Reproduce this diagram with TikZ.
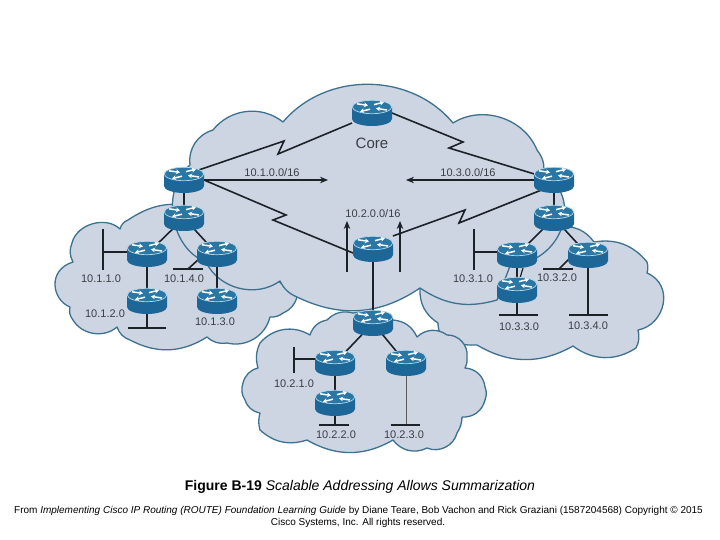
\documentclass[tikz,border=0pt]{standalone}
\usepackage{fontspec}
\setmainfont{Liberation Sans}
\usetikzlibrary{arrows.meta,calc}
\definecolor{cloudfill}{HTML}{CDD5E3}
\definecolor{cloudline}{HTML}{3D7190}
\definecolor{linkc}{HTML}{1B2328}
\definecolor{rbody}{HTML}{1D6798}
\definecolor{rtop}{HTML}{2A77A6}
\definecolor{redge}{HTML}{B5D8EA}
\definecolor{labelc}{HTML}{3A3F44}
\tikzset{
  x=1pt,y=-1pt,
  routerbox/.style={minimum width=40pt,minimum height=26pt,inner sep=0pt,outer sep=0pt},
  cloudshape/.style={draw=cloudline,fill=cloudfill,line width=1.3pt,line join=round},
  link/.style={draw=linkc,line width=1.6pt},
  wan/.style={draw=linkc,line width=1.6pt,line join=miter},
  thinarrow/.style={draw=linkc,line width=1.1pt,-{Stealth[length=8pt,width=6.5pt]}},
  netlabel/.style={font=\fontsize{11}{13}\selectfont,text=labelc,inner sep=0pt},
  bl/.style={bend left=#1},
  br/.style={bend right=#1},
  wharrow/.style={draw=white,line width=1.5pt,-{Stealth[length=4pt,width=4.6pt]}},
  router/.pic={
    \path[fill=rbody] (-20,-6) -- (-20,6) arc[start angle=180,end angle=360,x radius=20,y radius=-7] -- (20,-6) -- cycle;
    \path[fill=rtop,draw=redge,line width=0.7pt] (0,-6) ellipse[x radius=19.7,y radius=6.7];
    \draw[wharrow] (-15,-9.2) -- (-4,-7.6);
    \draw[wharrow] (15,-3) -- (4,-4.6);
    \draw[wharrow] (-2,-3.8) -- (-12,-1.4);
    \draw[wharrow] (2,-8.4) -- (12,-10.8);
  }
}
\begin{document}
\begin{tikzpicture}
\useasboundingbox (0,0) rectangle (720,540);
\fill[white] (0,0) rectangle (720,540);
% routers (placement)
\node[routerbox] (core) at (372,113) {};
\node[routerbox] (la) at (184,180) {};
\node[routerbox] (lb) at (184,218) {};
\node[routerbox] (lc) at (147,254) {};
\node[routerbox] (ld) at (217,254) {};
\node[routerbox] (le) at (147,301) {};
\node[routerbox] (lf) at (217,301) {};
\node[routerbox] (mid) at (373,249) {};
\node[routerbox] (ba) at (373,323) {};
\node[routerbox] (bb) at (335,363) {};
\node[routerbox] (bc) at (406,363) {};
\node[routerbox] (bd) at (335,403) {};
\node[routerbox] (ra) at (554,180) {};
\node[routerbox] (rb) at (554,218) {};
\node[routerbox] (rc) at (517,255) {};
\node[routerbox] (rd) at (588,255) {};
\node[routerbox] (re) at (517,290) {};
% clouds
\path[cloudshape] (190,205) to[br=20] (128,220) to[br=25] (120,229) to[br=60] (72,243) to[br=25] (73,262)
  .. controls (47,270) and (52,300) .. (70,307) to[br=25] (73,320) to[br=50] (117,327) to[br=25] (130,340) to[br=30] (207,337)
  to[br=25] (227,343) to[br=45] (270,317) to[br=20] (283,313) to[br=25] (297,297) -- cycle;
\path[cloudshape] (560,227) to[bl=30] (594,242) to[bl=30] (647,262) to[bl=15] (647,273)
  .. controls (675,285) and (665,325) .. (638,330)
  to[bl=20] (636,348) to[bl=35] (573,346) to[bl=30] (477,345) to[bl=15] (442,337) to[bl=15] (438,323)
  to[bl=30] (420,288) -- cycle;
\path[cloudshape] (353,313) to[bl=20] (393,320) to[bl=30] (417,337) to[bl=40] (447,335) to[bl=50] (467,357)
  to[bl=15] (465,368) to[bl=40] (485,387) to[bl=20] (485,400) to[bl=40] (462,417) to[bl=15] (457,433)
  to[bl=50] (427,448) to[bl=40] (393,440) to[bl=30] (307,440) to[bl=30] (260,430) to[bl=15] (260,413)
  to[bl=30] (245,400) to[bl=25] (243,383) to[bl=30] (258,368) to[bl=20] (260,343) to[bl=40] (310,335)
  to[bl=30] (327,320) to[bl=30] cycle;
\path[cloudshape] (283,122) to[bl=50] (453,123) to[bl=50] (537,150) to[bl=25] (543,176)
  .. controls (580,190) and (570,260) .. (510,266) -- (497,300) to[bl=25] (420,288)
  to[bl=30] (297,297) to[bl=20] (280,281) to[bl=50] (206,262) to[bl=60] (190,165) to[bl=40] (213,130) to[bl=45] cycle;
% zigzag corners and free ends
\coordinate (z1a) at (284,141); \coordinate (z1b) at (278,154);
\coordinate (z2a) at (463,142); \coordinate (z2b) at (449,148);
\coordinate (z3a) at (286,215); \coordinate (z3b) at (273,220);
\coordinate (z4a) at (465,210); \coordinate (z4b) at (459,223);
\coordinate (tipl) at (328,181); \coordinate (tipr) at (406,181);
\coordinate (upla) at (347,272); \coordinate (uplb) at (347,221);
\coordinate (upra) at (400,272); \coordinate (uprb) at (400,221);
% serial links
\draw[wan] ([yshift=3pt]core.south west) -- (z1b) -- (z1a) -- ([yshift=5pt]la.center);
\draw[wan] (core.east) -- (z2a) -- (z2b) -- (ra.center);
\draw[wan] (la.east) -- (z3a) -- (z3b) -- ([yshift=-4pt]mid.west);
\draw[wan] ([yshift=-5pt]ra.center) -- (z4b) -- (z4a) -- (mid.north east);
% summary arrows
\draw[thinarrow] (la.east) -- (la.east -| tipl);
\draw[thinarrow] (ra.west) -- (ra.west -| tipr);
\draw[thinarrow] (upla) -- (uplb);
\draw[thinarrow,line width=1.4pt] (upra) -- (uprb);
% LAN links
\foreach \p/\q in {la/lb,lb/lc,lb/ld,lc/le,ld/lf,mid/ba,ba/bb,ba/bc,bb/bd,ra/rb,rb/rc,rb/rd}
  \draw[link] (\p.center) -- (\q.center);
% networks
\coordinate (n1a) at (103,229); \coordinate (n1b) at (103,270); \coordinate (n1c) at (103,252);
\draw[link] (n1a) -- (n1b); \draw[link] (n1c) -- (n1c -| lc.center);
\coordinate (n2a) at (173,269); \coordinate (n2b) at (203,269); \coordinate (n2c) at (188,269); \coordinate (n2d) at (199,259);
\draw[link] (n2a) -- (n2b); \draw[link] (n2c) -- (n2d);
\coordinate (n3a) at (128,328); \coordinate (n3b) at (166,328);
\draw[link] (n3a) -- (n3b); \draw[link] (le.center) -- (n3a -| le.center);
\coordinate (n4a) at (294,347); \coordinate (n4b) at (294,373); \coordinate (n4c) at (294,359);
\draw[link] (n4a) -- (n4b); \draw[link] (n4c) -- (n4c -| bb.center);
\coordinate (n5a) at (319,425); \coordinate (n5b) at (349,425);
\draw[link] (n5a) -- (n5b); \draw[link] (bd.center) -- (n5a -| bd.center);
\coordinate (n6a) at (391,425); \coordinate (n6b) at (420,425);
\draw[draw=black!65,line width=1pt] (bc.center) -- (n6a -| bc.center);
\draw[link,line width=1.1pt] (n6a) -- (n6b);
\coordinate (n7a) at (474,229); \coordinate (n7b) at (474,270); \coordinate (n7c) at (474,252);
\draw[link] (n7a) -- (n7b); \draw[link] (n7c) -- (n7c -| rc.center);
\coordinate (n8a) at (543,269); \coordinate (n8b) at (573,269); \coordinate (n8c) at (559,269); \coordinate (n8d) at (570,258);
\draw[link] (n8a) -- (n8b); \draw[link] (n8c) -- (n8d);
\coordinate (n9a) at (499,315); \coordinate (n9b) at (538,315);
\draw[link] (n9a) -- (n9b); \draw[link] (re.center) -- (n9a -| re.center);
\coordinate (n10a) at (569,315); \coordinate (n10b) at (608,315);
\draw[link] (n10a) -- (n10b); \draw[link] (rd.center) -- (n10a -| rd.center);
\coordinate (s1a) at (517,268); \coordinate (s1b) at (517,278); \coordinate (s2a) at (523,268); \coordinate (s2b) at (520,278);
\draw[link,line width=1.2pt] (s1a) -- (s1b); \draw[link,line width=1.2pt] (s2a) -- (s2b);
% routers
\foreach \r in {core,la,lb,lc,ld,le,lf,mid,ba,bb,bc,bd,ra,rb,rc,rd,re}
  \pic at (\r.center) {router};
% labels
\node[font=\fontsize{15}{17}\selectfont,text=labelc,inner sep=0pt] (tcore) at (372,143) {Core};
\node[netlabel] (t1) at (272,173) {10.1.0.0/16};
\node[netlabel] (t2) at (468,173) {10.3.0.0/16};
\node[netlabel] (t3) at (373,214) {10.2.0.0/16};
\node[netlabel] (t4) at (101,279) {10.1.1.0};
\node[netlabel] (t5) at (184,279) {10.1.4.0};
\node[netlabel] (t6) at (105,314) {10.1.2.0};
\node[netlabel] (t7) at (215,322) {10.1.3.0};
\node[netlabel] (t8) at (294,384) {10.2.1.0};
\node[netlabel] (t9) at (336,435) {10.2.2.0};
\node[netlabel] (t10) at (404,435) {10.2.3.0};
\node[netlabel] (t11) at (473,279) {10.3.1.0};
\node[netlabel] (t12) at (557,278) {10.3.2.0};
\node[netlabel] (t13) at (519,327) {10.3.3.0};
\node[netlabel] (t14) at (588,326) {10.3.4.0};
\node[font=\fontsize{14}{16}\selectfont,inner sep=0pt] (cap) at (360,487) {\textbf{Figure B-19} \textit{Scalable Addressing Allows Summarization}};
\node[font=\fontsize{10}{12}\selectfont,inner sep=0pt] (src1) at (358.5,511) {From \textit{Implementing Cisco IP Routing (ROUTE) Foundation Learning Guide} by Diane Teare, Bob Vachon and Rick Graziani (1587204568) Copyright © 2015};
\node[font=\fontsize{10}{12}\selectfont,inner sep=0pt] (src2) at (358,523) {Cisco Systems, Inc. All rights reserved.};
\end{tikzpicture}
\end{document}
